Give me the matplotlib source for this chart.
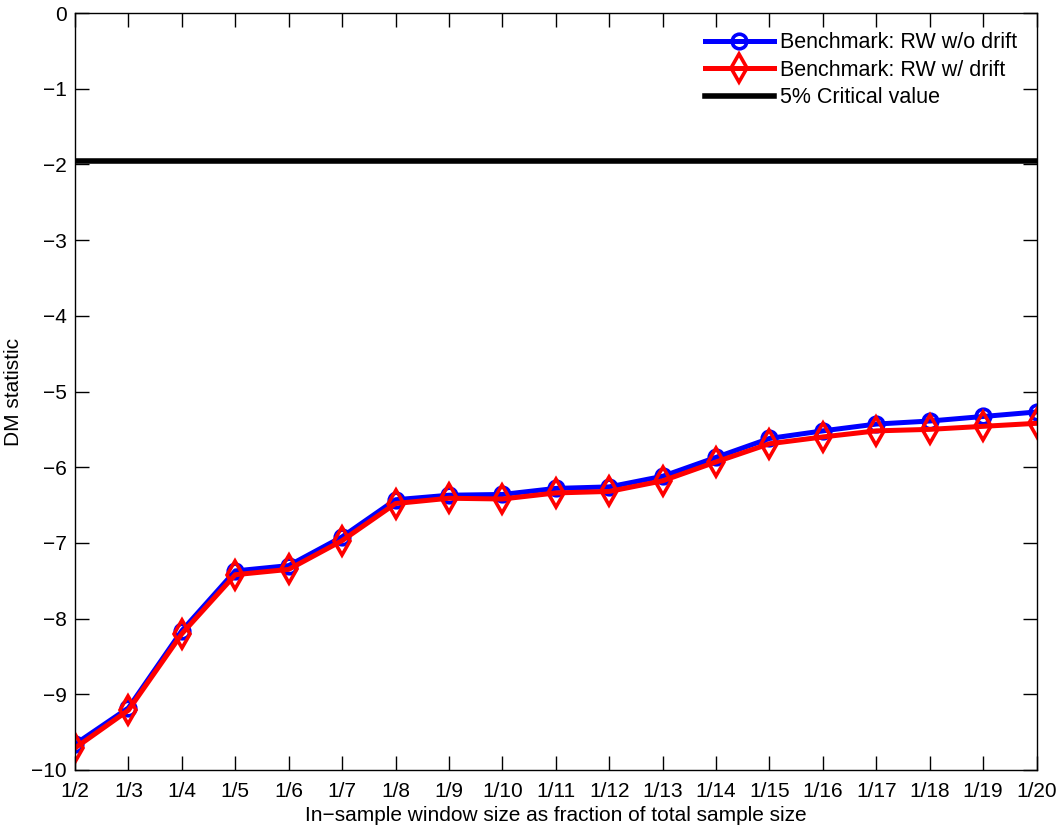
import matplotlib
matplotlib.use("Agg")
import matplotlib.pyplot as plt

plt.rcParams['font.family'] = ['Liberation Sans', 'DejaVu Sans']

labels = ["1/2", "1/3", "1/4", "1/5", "1/6", "1/7", "1/8", "1/9", "1/10", "1/11",
          "1/12", "1/13", "1/14", "1/15", "1/16", "1/17", "1/18", "1/19", "1/20"]
rw_no_drift = [-9.66, -9.18, -8.16, -7.37, -7.30, -6.92, -6.43, -6.37, -6.36, -6.28,
               -6.26, -6.12, -5.87, -5.62, -5.52, -5.43, -5.39, -5.33, -5.27]
rw_drift = [-9.71, -9.21, -8.20, -7.42, -7.35, -6.97, -6.48, -6.41, -6.42, -6.34,
            -6.32, -6.18, -5.93, -5.69, -5.60, -5.52, -5.50, -5.46, -5.42]
critical_value = -1.96

fig = plt.figure(figsize=(10.61, 8.30), dpi=100)
ax = fig.add_axes([0.0707, 0.0723, 0.9063, 0.9120])

x = list(range(1, len(labels) + 1))
ax.plot(x, rw_no_drift, color='#0000ff', lw=3.6, marker='o', ms=10.5, mfc='none',
        mec='#0000ff', mew=2.6, label='Benchmark: RW w/o drift')
ax.plot(x, rw_drift, color='#ff0000', lw=3.6, marker='d', ms=14, mfc='none',
        mec='#ff0000', mew=2.6, label='Benchmark: RW w/ drift')
ax.axhline(critical_value, color='black', lw=4, label='5% Critical value')

ax.set_xlim(1, len(labels))
ax.set_ylim(-10, 0)
ax.set_xticks(x)
ax.set_xticklabels(labels)
ax.set_yticks(range(-10, 1))
ax.set_yticklabels(['\u2212%d' % -v if v < 0 else '0' for v in range(-10, 1)])
ax.tick_params(direction='in', length=10, width=1, top=True, right=True, labelsize=15)
ax.tick_params(axis='x', pad=9)
ax.tick_params(axis='y', pad=6)
for s in ax.spines.values():
    s.set_linewidth(1)

ax.set_xlabel('In\u2212sample window size as fraction of total sample size', fontsize=15, labelpad=3)
ax.set_ylabel('DM statistic', fontsize=15, labelpad=6)

leg = ax.legend(loc='upper right', fontsize=15.5, frameon=False, handlelength=3.2,
                labelspacing=0.3, handletextpad=0.3, borderaxespad=0.5, numpoints=1)

fig.savefig('out.png', dpi=100)
